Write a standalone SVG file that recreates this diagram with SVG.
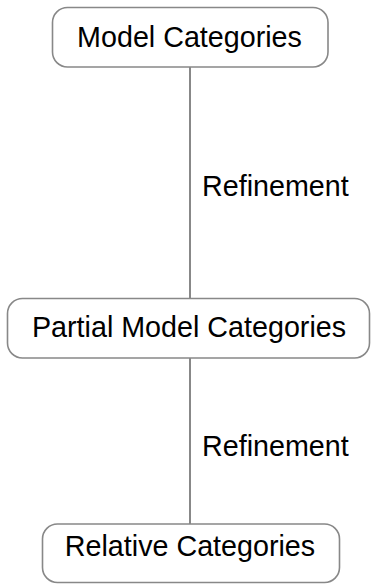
<svg xmlns="http://www.w3.org/2000/svg" width="371" height="584" viewBox="0 0 371 584">
  <style>
    .box { fill: #ffffff; stroke: #888888; stroke-width: 1.6; }
    .lbl { font-family: "Liberation Sans", Arial, sans-serif; font-size: 28.7px; fill: #000000; }
    .mid { text-anchor: middle; }
    .edge { stroke: #888888; stroke-width: 2; fill: none; }
  </style>
  <rect width="371" height="584" fill="#ffffff"/>
  <g id="connectors">
    <line class="edge" x1="190" y1="67" x2="190" y2="298"/>
    <line class="edge" x1="190" y1="358" x2="190" y2="524"/>
    <text class="lbl" x="202" y="196">Refinement</text>
    <text class="lbl" x="202" y="456">Refinement</text>
  </g>
  <g id="model-categories">
    <rect class="box" x="52.5" y="7.5" width="275.5" height="59.5" rx="15" ry="15"/>
    <text class="lbl mid" x="189.5" y="47">Model Categories</text>
  </g>
  <g id="partial-model-categories">
    <rect class="box" x="7.5" y="298.5" width="362" height="59.5" rx="15" ry="15"/>
    <text class="lbl mid" x="189" y="337">Partial Model Categories</text>
  </g>
  <g id="relative-categories">
    <rect class="box" x="42.5" y="524" width="297" height="58.5" rx="15" ry="15"/>
    <text class="lbl mid" x="190" y="555.5">Relative Categories</text>
  </g>
</svg>
